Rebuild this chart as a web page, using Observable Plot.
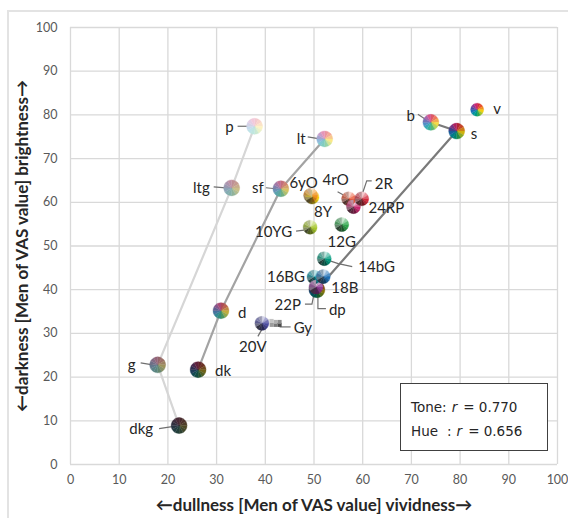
<!DOCTYPE html>
<html><head><meta charset="utf-8">
<script src="https://cdn.jsdelivr.net/npm/d3@7"></script>
<script src="https://cdn.jsdelivr.net/npm/@observablehq/plot@0.6"></script>
<style>
body{margin:0;background:#fff;}
#wrap{position:relative;width:568px;height:518px;overflow:hidden;font-family:Lato,sans-serif;background:#fff;}
#wrap svg{position:absolute;left:0;top:0;}
.bl{position:absolute;left:7px;top:10px;width:1.5px;height:520px;background:#e3e3e3;}
.bt{position:absolute;left:7px;top:10px;width:570px;height:1.5px;background:#e3e3e3;}
#legend{position:absolute;left:400px;top:383px;width:148px;height:68px;border:1.5px solid #404040;background:#fff;
  font-family:"DejaVu Sans",sans-serif;font-size:13.5px;color:#262626;padding:11px 0 0 10px;box-sizing:border-box;}
#legend .row{height:24px;line-height:24px;white-space:nowrap;}
#legend .row span{display:inline-block;margin-right:5px;}
#legend .row span.i{font-style:italic;margin-right:6px;}
#legend .row span.gap{margin-right:9px;}
</style></head><body><div id="wrap"><div class="bl"></div><div class="bt"></div></div>
<script>
// ---- data ----
const toneNames = ["v","b","s","dp","lt","sf","d","dk","p","ltg","g","dkg"];
const toneX = [83.5,74.0,79.3,50.6,52.2,43.2,30.9,26.2,37.8,33.1,17.9,22.3];
const toneY = [81.2,78.3,76.3,40.0,74.5,63.1,35.2,21.7,77.4,63.3,22.8,8.9];

const hueNames = ["24RP","2R","4rO","8Y","6yO","10YG","12G","14bG","16BG","18B","20V","22P"];
const hueX = [58.1,59.8,57.1,49.6,49.3,49.2,55.7,52.1,50.0,51.9,39.3,50.4];
const hueY = [59.0,60.8,60.8,61.2,61.6,54.3,54.9,47.1,42.9,43.0,32.3,40.6];

const grayName = ["Gy"];
const grayX = [41.3];
const grayY = [32.4];

const lightSeries = ["p","ltg","g","dkg"];
const mediumSeries = ["lt","sf","d","dk"];
const darkSeries = ["b","s","dp"];

const xTicks = [0,10,20,30,40,50,60,70,80,90,100];
const yTicks = [0,10,20,30,40,50,60,70,80,90,100];

const xTitle = "←dullness [Men of VAS value] vividness→";
const yTitle = "←darkness [Men of VAS value] brightness→";

const corrLabels = ["Tone", "Hue"];
const corrValues = ["0.770", "0.656"];

// ---- styles (colours of pie slices) ----
const wheelHues = ["2R","4rO","6yO","8Y","10YG","12G","14bG","16BG","18B","20V","22P","24RP"];
const wheelBase = ["#d42a3c","#e8502e","#f0901f","#f4d010","#a5c62a","#2ea64c","#009a7e","#0092a3","#1f70b6","#4b4ba0","#8e3c97","#cb2870"];
const toneTarget = {v:["#000",0],b:["#fff",0.22],s:["#000",0.15],dp:["#000",0.45],lt:["#fff",0.5],sf:["#b5b5b5",0.5],
  d:["#7a7a7a",0.42],dk:["#1e1e1e",0.62],p:["#fff",0.75],ltg:["#b8b8b8",0.72],g:["#7d7d7d",0.72],dkg:["#2b2b2b",0.82]};
const sliceToneOrder = ["p","lt","b","v","s","dp","dk","dkg","g","d","sf","ltg"];
const grayCells = [[-6,-4,"#dcdcdc"],[-2,-4,"#c4c4c4"],[-2,0,"#9c9c9c"],[2,0,"#7a7a7a"],[2,-3,"#b0b0b0"],[6,0,"#4a4a4a"],[6,-3,"#8a8a8a"]];

// ---- label layout (pixel offsets from the point) ----
const labelLayout = {
  v:{dx:16,dy:0,anchor:"start"},
  b:{dx:-16,dy:-6,anchor:"end",lead:[[-13,-8],[-4,-2]]},
  s:{dx:14,dy:3,anchor:"start"},
  p:{dx:-21,dy:1,anchor:"end",lead:[[-17,0],[-7,0]]},
  lt:{dx:-19,dy:0,anchor:"end",lead:[[-17,-2],[-5,0]]},
  ltg:{dx:-22,dy:0,anchor:"end",lead:[[-18,-1],[-6,0]]},
  sf:{dx:-17,dy:-1,anchor:"end",lead:[[-15,-1],[-5,0]]},
  "6yO":{dx:-7,dy:-12,anchor:"middle"},
  "8Y":{dx:11,dy:15,anchor:"middle"},
  "4rO":{dx:-13,dy:-19,anchor:"middle",lead:[[-11,-7],[-2,-2]]},
  "2R":{dx:13,dy:-15,anchor:"start",lead:[[10,-18],[5,-18],[1,-6]]},
  "24RP":{dx:15,dy:2,anchor:"start"},
  "10YG":{dx:-18,dy:5,anchor:"end",lead:[[-14,4],[-6,3]]},
  "12G":{dx:0,dy:18,anchor:"middle"},
  "14bG":{dx:34,dy:9,anchor:"start",lead:[[5,2],[14,5],[28,8]]},
  "16BG":{dx:-9,dy:0,anchor:"end"},
  "18B":{dx:8,dy:12,anchor:"start"},
  "22P":{dx:-15,dy:18,anchor:"end",lead:[[-11,17],[-4,17],[-2,7]]},
  dp:{dx:12,dy:20,anchor:"start",lead:[[1,3],[1,19],[9,19]]},
  d:{dx:17,dy:3,anchor:"start"},
  Gy:{dx:22,dy:5,anchor:"start",lead:[[8,4],[19,4]]},
  "20V":{dx:-9,dy:24,anchor:"middle",lead:[[-4,13],[0,6]]},
  g:{dx:-22,dy:0,anchor:"end",lead:[[-17,-2],[-5,0]]},
  dk:{dx:17,dy:2,anchor:"start"},
  dkg:{dx:-26,dy:4,anchor:"end",lead:[[-20,3],[-7,1]]}
};

// ---- build ----
const mix = (c, tone) => { const [t, a] = toneTarget[tone]; return d3.interpolateRgb(c, t)(a); };
const tonePts = toneNames.map((n,i)=>({name:n,x:toneX[i],y:toneY[i],r:n==="v"?6.5:8,kind:"tone"}));
const huePts = hueNames.map((n,i)=>({name:n,x:hueX[i],y:hueY[i],r:7,kind:"hue"}));
const grayPts = grayName.map((n,i)=>({name:n,x:grayX[i],y:grayY[i]}));
const pts = new Map([...tonePts,...huePts,...grayPts].map(d=>[d.name,d]));

const N = 12;
const wedge = k => ({draw(ctx, size){const r=Math.sqrt(size/Math.PI);const a0=-Math.PI/2+k*2*Math.PI/N,a1=a0+2*Math.PI/N;
  ctx.moveTo(0,0);ctx.arc(0,0,r,a0,a1);ctx.closePath();}});
const polyline = pts2 => ({draw(ctx){ctx.moveTo(pts2[0][0],pts2[0][1]);for(let i=1;i<pts2.length;i++)ctx.lineTo(pts2[i][0],pts2[i][1]);}});
const cell = (ox,oy) => ({draw(ctx){ctx.rect(ox,oy,4,4);}});

const sliceColor = (d,k) => d.kind==="tone" ? mix(wheelBase[k], d.name)
  : mix(wheelBase[wheelHues.indexOf(d.name)], sliceToneOrder[k]);

const pieMarks = data => d3.range(N).map(k => Plot.dot(data, {x:"x",y:"y",r:"r",symbol:wedge(k),
  fill:d=>sliceColor(d,k), stroke:d=>sliceColor(d,k), strokeWidth:0.3}));

const lineMark = (series, color) => Plot.line(series.map(n=>pts.get(n)), {x:"x",y:"y",stroke:color,strokeWidth:2.2});

const leaderMarks = Object.entries(labelLayout).filter(([,l])=>l.lead).map(([n,l]) =>
  Plot.dot([pts.get(n)], {x:"x",y:"y",r:1,symbol:polyline(l.lead),fill:"none",stroke:"#6f6f6f",strokeWidth:1.2}));

const labelMarks = Object.entries(labelLayout).map(([n,l]) =>
  Plot.text([pts.get(n)], {x:"x",y:"y",text:d=>d.name,dx:l.dx,dy:l.dy,textAnchor:l.anchor,fontSize:15,fill:"#262626"}));

const grayMarks = grayCells.map(([ox,oy,c]) => Plot.dot(grayPts, {x:"x",y:"y",r:1,symbol:cell(ox,oy),fill:c,stroke:"none"}));

const chart = Plot.plot({
  width:568, height:518,
  marginLeft:70, marginRight:11, marginTop:27, marginBottom:54,
  style:{fontFamily:"Lato, sans-serif", color:"#595959", background:"transparent", overflow:"visible"},
  x:{domain:[0,100]}, y:{domain:[0,100]},
  color:{type:"identity"}, r:{type:"identity"},
  marks:[
    Plot.gridX(xTicks, {stroke:"#d9d9d9", strokeOpacity:1, strokeWidth:1.3}),
    Plot.gridY(yTicks, {stroke:"#d9d9d9", strokeOpacity:1, strokeWidth:1.3}),
    Plot.axisX(xTicks, {tickSize:0, tickPadding:11, fontSize:12.5, label:null}),
    Plot.axisY(yTicks, {tickSize:0, tickPadding:13, fontSize:12.5, label:null}),
    Plot.text([xTitle], {text:d=>d, frameAnchor:"bottom", dy:41, lineAnchor:"middle", textAnchor:"middle", fontSize:17, fontWeight:"bold", fill:"#262626"}),
    Plot.text([yTitle], {text:d=>d, frameAnchor:"left", dx:-48, rotate:-90, lineAnchor:"middle", textAnchor:"middle", fontSize:17, fontWeight:"bold", fill:"#262626"}),
    lineMark(lightSeries, "#d6d6d6"),
    lineMark(mediumSeries, "#a3a3a3"),
    lineMark(darkSeries, "#7a7a7a"),
    ...leaderMarks,
    ...pieMarks(tonePts),
    ...grayMarks,
    ...pieMarks(huePts),
    ...labelMarks
  ]
});
const wrap = document.getElementById("wrap");
wrap.appendChild(chart);
const legend = document.createElement("div");
legend.id = "legend";
legend.innerHTML = corrLabels.map((l,i) => i === 0
  ? `<div class="row"><span>${l}:</span><span class="i">r</span><span>= ${corrValues[i]}</span></div>`
  : `<div class="row"><span class="gap">${l}</span><span>:</span><span class="i">r</span><span>= ${corrValues[i]}</span></div>`
).join("");
wrap.appendChild(legend);
</script></body></html>
